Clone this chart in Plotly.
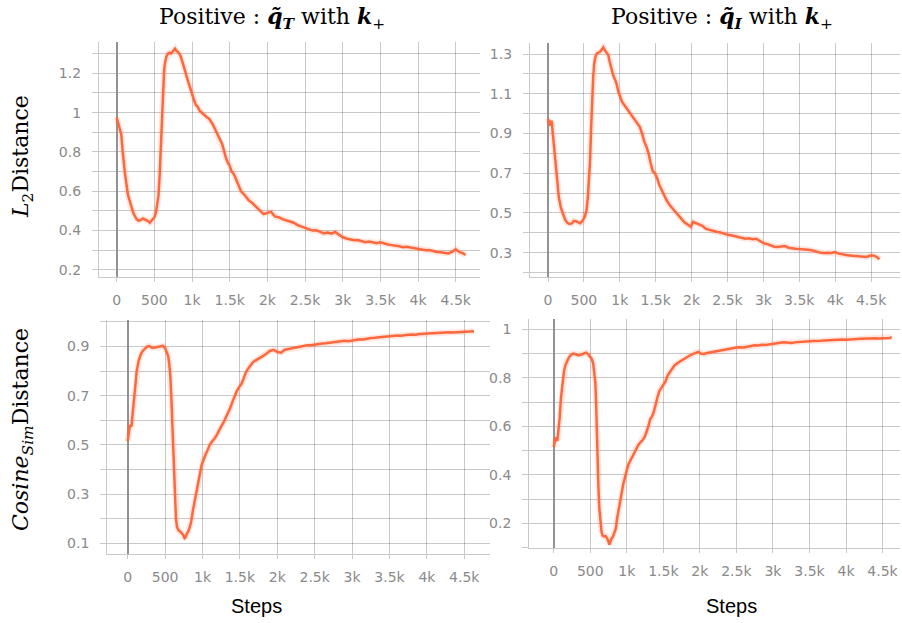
import plotly.graph_objects as go

# ---- data: q~_T vs k+ (left column) and q~_I vs k+ (right column) ----
l2_qt_steps = [0, 20, 40, 60, 80, 110, 150, 190, 220, 260, 290, 320, 350, 380, 410, 440, 470, 500,
               520, 540, 555, 570, 585, 600, 615, 630, 645, 660, 680, 700, 720, 740, 760, 775, 790,
               810, 830, 850, 870, 890, 910, 930, 950, 975, 1000, 1025, 1050, 1075, 1100, 1125,
               1150, 1175, 1200, 1225, 1250, 1275, 1300, 1325, 1350, 1375, 1400, 1425, 1450, 1475,
               1500, 1525, 1550, 1575, 1600, 1625, 1650, 1700, 1750, 1800, 1850, 1900, 1950, 2000,
               2050, 2100, 2150, 2200, 2250, 2300, 2350, 2400, 2450, 2500, 2550, 2600, 2650, 2700,
               2750, 2800, 2850, 2900, 2950, 3000, 3050, 3100, 3150, 3200, 3250, 3300, 3350, 3400,
               3450, 3500, 3550, 3600, 3650, 3700, 3750, 3800, 3850, 3900, 3950, 4000, 4050, 4100,
               4150, 4200, 4250, 4300, 4350, 4400, 4450, 4500, 4550, 4600, 4630]
l2_qt_vals = [0.975, 0.95, 0.92, 0.89, 0.80, 0.69, 0.58, 0.52, 0.49, 0.46, 0.45, 0.455, 0.462, 0.455,
              0.45, 0.44, 0.452, 0.468, 0.49, 0.53, 0.58, 0.68, 0.83, 1.00, 1.14, 1.22, 1.26, 1.285,
              1.30, 1.305, 1.30, 1.31, 1.32, 1.325, 1.315, 1.31, 1.30, 1.285, 1.26, 1.24, 1.21,
              1.18, 1.155, 1.115, 1.09, 1.065, 1.04, 1.03, 1.01, 1.0, 0.995, 0.985, 0.975, 0.97,
              0.958, 0.94, 0.92, 0.897, 0.88, 0.86, 0.84, 0.80, 0.77, 0.745, 0.73, 0.70, 0.69,
              0.67, 0.645, 0.615, 0.60, 0.58, 0.555, 0.54, 0.522, 0.505, 0.484, 0.49, 0.495, 0.472,
              0.468, 0.458, 0.452, 0.446, 0.44, 0.428, 0.42, 0.413, 0.407, 0.40, 0.402, 0.392,
              0.386, 0.39, 0.384, 0.393, 0.378, 0.366, 0.36, 0.356, 0.351, 0.352, 0.346, 0.341,
              0.345, 0.34, 0.336, 0.341, 0.334, 0.329, 0.326, 0.324, 0.32, 0.315, 0.318, 0.314,
              0.31, 0.309, 0.304, 0.30, 0.301, 0.295, 0.291, 0.29, 0.286, 0.284, 0.292, 0.305,
              0.29, 0.284, 0.276]

l2_qi_steps = [0, 15, 30, 50, 70, 90, 120, 150, 180, 210, 240, 270, 300, 330, 360, 390, 420, 450,
               480, 510, 535, 555, 570, 585, 600, 615, 630, 645, 660, 680, 700, 720, 745, 770, 790,
               810, 840, 860, 885, 910, 935, 955, 980, 1000, 1030, 1060, 1090, 1120, 1150, 1180,
               1210, 1240, 1280, 1310, 1340, 1370, 1400, 1430, 1460, 1490, 1520, 1550, 1580, 1610,
               1650, 1700, 1750, 1800, 1850, 1900, 1950, 1990, 2020, 2050, 2100, 2150, 2200, 2250,
               2300, 2350, 2400, 2450, 2500, 2550, 2600, 2650, 2700, 2750, 2800, 2850, 2900, 2950,
               3000, 3050, 3100, 3150, 3200, 3250, 3300, 3350, 3400, 3450, 3500, 3550, 3600, 3650,
               3700, 3750, 3800, 3850, 3900, 3950, 4000, 4050, 4100, 4150, 4200, 4250, 4300, 4350,
               4400, 4450, 4500, 4550, 4590, 4615]
l2_qi_vals = [0.975, 0.95, 0.94, 0.965, 0.88, 0.80, 0.68, 0.58, 0.525, 0.49, 0.465, 0.45, 0.445,
              0.447, 0.46, 0.458, 0.452, 0.448, 0.46, 0.48, 0.51, 0.58, 0.67, 0.76, 0.92, 1.08,
              1.19, 1.255, 1.285, 1.303, 1.305, 1.31, 1.32, 1.333, 1.32, 1.31, 1.295, 1.26, 1.22,
              1.19, 1.17, 1.15, 1.11, 1.085, 1.06, 1.045, 1.03, 1.01, 1.0, 0.98, 0.966, 0.955,
              0.932, 0.90, 0.86, 0.835, 0.80, 0.75, 0.71, 0.70, 0.675, 0.64, 0.615, 0.59, 0.565,
              0.537, 0.515, 0.494, 0.47, 0.453, 0.44, 0.43, 0.455, 0.45, 0.442, 0.435, 0.42, 0.414,
              0.41, 0.405, 0.402, 0.395, 0.39, 0.388, 0.384, 0.38, 0.374, 0.37, 0.372, 0.368,
              0.37, 0.358, 0.348, 0.344, 0.336, 0.33, 0.328, 0.332, 0.333, 0.325, 0.321, 0.32,
              0.318, 0.317, 0.316, 0.313, 0.31, 0.305, 0.299, 0.298, 0.30, 0.298, 0.303, 0.295,
              0.29, 0.288, 0.286, 0.284, 0.282, 0.281, 0.279, 0.28, 0.287, 0.284, 0.276, 0.266]

cos_qt_steps = [0, 15, 30, 50, 65, 80, 100, 120, 145, 170, 200, 230, 260, 290, 320, 350, 380, 410,
                440, 470, 500, 520, 540, 555, 570, 585, 600, 615, 630, 645, 660, 680, 700, 720, 740,
                760, 775, 790, 810, 830, 850, 870, 890, 910, 930, 950, 970, 990, 1010, 1040, 1070,
                1100, 1130, 1160, 1190, 1220, 1250, 1280, 1310, 1340, 1370, 1400, 1430, 1460, 1490,
                1520, 1550, 1580, 1610, 1640, 1670, 1700, 1750, 1800, 1850, 1900, 1950, 2000, 2050,
                2100, 2150, 2200, 2250, 2300, 2350, 2400, 2450, 2500, 2550, 2600, 2650, 2700, 2750,
                2800, 2850, 2900, 2950, 3000, 3050, 3100, 3150, 3200, 3250, 3300, 3350, 3400, 3450,
                3500, 3550, 3600, 3650, 3700, 3750, 3800, 3850, 3900, 3950, 4000, 4050, 4100, 4150,
                4200, 4250, 4300, 4350, 4400, 4450, 4500, 4550, 4600, 4630]
cos_qt_vals = [0.515, 0.55, 0.58, 0.575, 0.62, 0.66, 0.735, 0.80, 0.84, 0.865, 0.882, 0.892, 0.90,
               0.902, 0.896, 0.895, 0.897, 0.896, 0.90, 0.903, 0.894, 0.88, 0.862, 0.83, 0.78,
               0.68, 0.57, 0.42, 0.28, 0.20, 0.165, 0.152, 0.148, 0.142, 0.135, 0.12, 0.125, 0.138,
               0.148, 0.165, 0.19, 0.23, 0.265, 0.30, 0.33, 0.355, 0.39, 0.42, 0.44, 0.46, 0.48,
               0.502, 0.515, 0.525, 0.54, 0.56, 0.575, 0.59, 0.61, 0.625, 0.65, 0.675, 0.70, 0.72,
               0.735, 0.748, 0.77, 0.795, 0.81, 0.825, 0.835, 0.842, 0.85, 0.86, 0.87, 0.882,
               0.887, 0.878, 0.875, 0.887, 0.89, 0.893, 0.897, 0.898, 0.902, 0.905, 0.905, 0.908,
               0.911, 0.912, 0.913, 0.915, 0.917, 0.918, 0.92, 0.924, 0.922, 0.925, 0.928, 0.93,
               0.929, 0.933, 0.935, 0.936, 0.938, 0.94, 0.941, 0.942, 0.943, 0.945, 0.944, 0.947,
               0.948, 0.949, 0.948, 0.951, 0.952, 0.951, 0.953, 0.954, 0.956, 0.955, 0.957, 0.958,
               0.957, 0.958, 0.96, 0.959, 0.96, 0.963, 0.962]

cos_qi_steps = [0, 15, 30, 50, 65, 80, 100, 120, 140, 160, 185, 210, 240, 270, 300, 330, 360, 390,
                420, 445, 470, 495, 520, 540, 555, 570, 580, 590, 600, 612, 625, 640, 655, 670, 690,
                710, 730, 750, 762, 775, 790, 810, 830, 850, 870, 890, 910, 930, 950, 975, 1000,
                1025, 1050, 1075, 1100, 1130, 1160, 1190, 1220, 1250, 1275, 1300, 1320, 1345, 1370,
                1395, 1420, 1445, 1470, 1500, 1530, 1560, 1600, 1650, 1700, 1750, 1800, 1850, 1900,
                1950, 1980, 2010, 2050, 2100, 2150, 2200, 2250, 2300, 2350, 2400, 2450, 2500, 2550,
                2600, 2650, 2700, 2750, 2800, 2850, 2900, 2950, 3000, 3050, 3100, 3150, 3200, 3250,
                3300, 3350, 3400, 3450, 3500, 3550, 3600, 3650, 3700, 3750, 3800, 3850, 3900, 3950,
                4000, 4050, 4100, 4150, 4200, 4250, 4300, 4350, 4400, 4450, 4500, 4550, 4600, 4625]
cos_qi_vals = [0.515, 0.53, 0.555, 0.54, 0.58, 0.63, 0.72, 0.78, 0.825, 0.852, 0.872, 0.885,
               0.895, 0.90, 0.897, 0.893, 0.894, 0.897, 0.90, 0.904, 0.898, 0.89, 0.878, 0.86,
               0.83, 0.78, 0.70, 0.57, 0.46, 0.35, 0.26, 0.195, 0.165, 0.15, 0.147, 0.148, 0.14,
               0.125, 0.113, 0.125, 0.138, 0.145, 0.16, 0.18, 0.225, 0.265, 0.295, 0.325, 0.36,
               0.395, 0.42, 0.445, 0.46, 0.48, 0.495, 0.51, 0.525, 0.535, 0.545, 0.56, 0.58, 0.605,
               0.63, 0.64, 0.66, 0.695, 0.72, 0.745, 0.758, 0.77, 0.785, 0.81, 0.83, 0.85, 0.862,
               0.872, 0.882, 0.89, 0.898, 0.905, 0.907, 0.90, 0.898, 0.902, 0.905, 0.91, 0.912,
               0.916, 0.918, 0.921, 0.924, 0.925, 0.926, 0.925, 0.928, 0.932, 0.934, 0.933, 0.936,
               0.935, 0.938, 0.94, 0.943, 0.944, 0.946, 0.945, 0.943, 0.946, 0.948, 0.95, 0.949,
               0.951, 0.952, 0.951, 0.953, 0.954, 0.955, 0.955, 0.957, 0.957, 0.958, 0.957, 0.959,
               0.96, 0.96, 0.961, 0.962, 0.961, 0.962, 0.963, 0.962, 0.963, 0.962, 0.964, 0.967]

titles = ["Positive : <b><i>q̃</i></b><sub><b><i>T</i></b></sub> with <b><i>k</i></b><sub>+</sub>",
          "Positive : <b><i>q̃</i></b><sub><b><i>I</i></b></sub> with <b><i>k</i></b><sub>+</sub>"]
row_titles = ["<i>L</i><sub>2</sub>Distance", "<i>Cosine</i><sub><i>Sim</i></sub>Distance"]
x_title = "Steps"

LINE = "rgb(255,104,61)"
HALO = "rgba(255,104,61,0.16)"
GRID = "rgba(0,0,0,0.21)"
TICKFONT = dict(family="DejaVu Sans", size=14, color="#8a8a8a")
SERIF = "DejaVu Serif"

W, H = 902, 623

# panel geometry in pixels: left, right, top, bottom; x range; y range; first labelled y tick
panels = [
    dict(px=(99, 480, 42, 277), xr=[-235, 4822], yr=[0.164, 1.359], t0=0.2, data=(l2_qt_steps, l2_qt_vals)),
    dict(px=(530, 900, 42.7, 276.7), xr=[-251, 4903], yr=[0.179, 1.357], t0=0.3, data=(l2_qi_steps, l2_qi_vals)),
    dict(px=(107.3, 490, 320, 554), xr=[-273, 4844], yr=[0.056, 1.008], t0=0.1, data=(cos_qt_steps, cos_qt_vals)),
    dict(px=(529.3, 900, 319.3, 548.3), xr=[-334, 4739], yr=[0.098, 1.041], t0=0.2, data=(cos_qi_steps, cos_qi_vals)),
]

fig = go.Figure()
layout = {}
for i, p in enumerate(panels, start=1):
    l, r, t, b = p["px"]
    sfx = "" if i == 1 else str(i)
    xs, ys = p["data"]
    for width, color in ((6, HALO), (2.5, LINE)):
        fig.add_trace(go.Scatter(x=xs, y=ys, mode="lines", xaxis="x" + sfx, yaxis="y" + sfx,
                                 line=dict(color=color, width=width), showlegend=False,
                                 hoverinfo="skip" if width > 3 else None))
    layout["xaxis" + sfx] = dict(
        domain=[l / W, r / W], anchor="y" + sfx, range=p["xr"],
        tick0=0, dtick=500, tickformat="~s", showgrid=True, gridcolor=GRID, gridwidth=1.3,
        zeroline=True, zerolinecolor="#929292", zerolinewidth=2,
        showline=True, linecolor=GRID, linewidth=1.3,
        ticks="outside", ticklen=4, tickcolor=GRID, tickwidth=1.3,
        tickfont=TICKFONT, ticklabelstandoff=6, fixedrange=True)
    layout["yaxis" + sfx] = dict(
        domain=[1 - b / H, 1 - t / H], anchor="x" + sfx, range=p["yr"],
        tick0=p["t0"], dtick=0.2, showgrid=True, gridcolor=GRID, gridwidth=1.3,
        zeroline=False, showline=True, linecolor=GRID, linewidth=1.3,
        ticks="outside", ticklen=6, tickcolor=GRID, tickwidth=1.3,
        minor=dict(dtick=0.1, tick0=0, showgrid=True, gridcolor=GRID, gridwidth=1.3,
                   ticks="outside", ticklen=6, tickcolor=GRID, tickwidth=1.3),
        tickfont=TICKFONT, ticklabelstandoff=8, fixedrange=True)

annotations = [
    dict(text=titles[0], x=272 / W, y=1 - 18 / H, xref="paper", yref="paper", showarrow=False,
         font=dict(family=SERIF, size=22, color="black"), xanchor="center", yanchor="middle"),
    dict(text=titles[1], x=722 / W, y=1 - 18 / H, xref="paper", yref="paper", showarrow=False,
         font=dict(family=SERIF, size=22, color="black"), xanchor="center", yanchor="middle"),
    dict(text=row_titles[0], x=22 / W, y=1 - 157 / H, xref="paper", yref="paper", showarrow=False,
         textangle=-90, font=dict(family=SERIF, size=22, color="black"),
         xanchor="center", yanchor="middle"),
    dict(text=row_titles[1], x=22 / W, y=1 - 430 / H, xref="paper", yref="paper", showarrow=False,
         textangle=-90, font=dict(family=SERIF, size=22, color="black"),
         xanchor="center", yanchor="middle"),
    dict(text=x_title, x=256 / W, y=1 - 606 / H, xref="paper", yref="paper", showarrow=False,
         font=dict(family="Liberation Sans", size=20, color="black"), xanchor="center", yanchor="middle"),
    dict(text=x_title, x=731 / W, y=1 - 606 / H, xref="paper", yref="paper", showarrow=False,
         font=dict(family="Liberation Sans", size=20, color="black"), xanchor="center", yanchor="middle"),
]

fig.update_layout(width=W, height=H, margin=dict(l=0, r=0, t=0, b=0),
                  paper_bgcolor="white", plot_bgcolor="white",
                  annotations=annotations, **layout)

fig.write_html("out.html")
